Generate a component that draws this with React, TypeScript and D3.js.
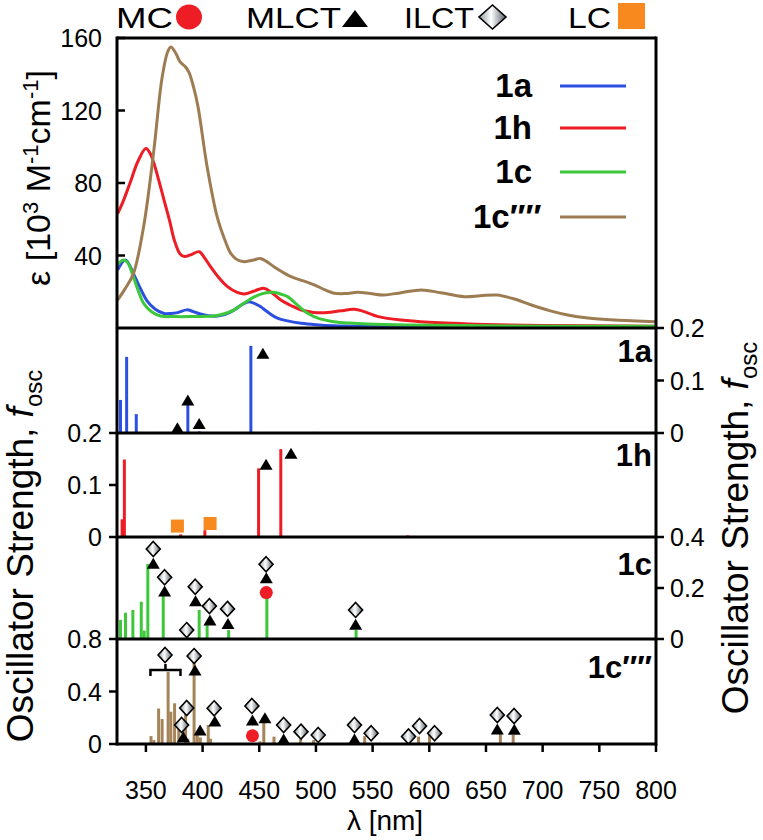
import React from "react";
import * as d3 from "d3";

// ---------- data ----------
const specBlue1a: [number, number][] = [[325,32],[332,37.5],[339,30],[345,22],[351,15],[358,10.5],[366,8],[372,8],[378,8.5],[386,10],[392,9],[398,7.7],[405,6.8],[413,6.6],[420,7.5],[428,10],[435,13],[441,14.5],[447,13.2],[451,11.8],[458,8.5],[466,5.4],[476,3.8],[487,2.6],[500,1.8],[516,1.2],[550,0.9],[600,0.7],[700,0.5],[800,0.4]];
const specRed1h: [number, number][] = [[325,63],[330,70],[336,80],[343,92],[350,99],[354,96],[357,91],[362,80],[366,70.6],[371,59],[375,48.6],[380,41],[384,39.4],[390,40.5],[397,42.1],[402,38.5],[407,33.8],[414,28],[422,22.8],[430,19.8],[437,18.8],[445,20.3],[454,21.9],[461,19.5],[469,15.4],[478,12.4],[487,9.9],[498,8.6],[510,8.5],[522,9.5],[534,10.3],[545,8.5],[555,6.3],[575,4.4],[600,3.2],[650,2],[700,1.4],[800,1]];
const specGreen1c: [number, number][] = [[325,35],[330,37.5],[334,36],[338,30],[343,21],[348,13.6],[355,9],[363,6.6],[375,6.3],[390,6.3],[400,6.4],[410,6.6],[420,8],[428,10],[436,13.5],[446,17.3],[455,19.3],[463,19.7],[470,18.5],[475,17.3],[484,12.5],[493,8],[503,5.2],[516,3.5],[530,2.7],[545,2.2],[580,1.6],[650,1.2],[800,0.9]];
const specBrown1c4: [number, number][] = [[325,15.4],[332,22],[339,30],[348,56],[357,98],[364,137],[369,152],[372,155],[376,152],[380,147],[385,144],[388,141],[392,133],[396,122],[404,89],[413,61],[420,48],[425,41],[431,37.5],[437,36.6],[445,37.5],[451,38.4],[457,36.5],[463,33.8],[470,31],[478,28.3],[489,26],[499,23.7],[508,21],[516,19.2],[526,19],[537,19.7],[548,19],[560,18.2],[575,19.5],[593,21],[610,19.5],[631,17.3],[645,17.8],[660,18.2],[675,16],[690,12.7],[706,9.6],[722,7.2],[740,5.5],[764,4.4],[800,3.5]];

const sticks1a: [number, number][] = [[327.6,0.063],[333,0.145],[341.5,0.036],[377.8,0.004],[387,0.057],[397,0.003],[442.6,0.166],[498,0.002]];
const sticks1h: [number, number][] = [[329,0.034],[331,0.149],[380.7,0.005],[400,0.002],[402,0.013],[449.4,0.132],[469,0.169],[581,0.003]];
const sticks1c: [number, number][] = [[327.6,0.075],[332,0.103],[338.5,0.114],[345.9,0.146],[348.5,0.033],[351.7,0.294],[365.3,0.172],[386.6,0.01],[397,0.114],[404,0.055],[423,0.035],[456.7,0.172],[535.4,0.035]];
const sticks1c4: [number, number][] = [[339,0.008],[341,0.008],[345,0.007],[348,0.008],[354.5,0.06],[357,0.03],[361.2,0.27],[364.3,0.19],[369.6,0.55],[372,0.246],[375.3,0.31],[379,0.16],[385,0.236],[387,0.04],[392.5,0.69],[395.3,0.08],[398,0.05],[405,0.145],[407,0.04],[450.6,0.02],[454,0.196],[463,0.056],[486.5,0.04],[498,0.03],[543,0.06],[590.5,0.056],[600.2,0.07],[662.7,0.08],[674,0.07]];

const tri1a: [number, number][] = [[377.8,0.010],[387,0.063],[397,0.018],[453.2,0.152]];
const tri1h: [number, number][] = [[456,0.140],[478,0.161]];
const sq1h: [number, number][] = [[377.8,0.021],[406.6,0.026]];
const tri1c: [number, number][] = [[356.5,0.297],[366.5,0.188],[393.8,0.150],[406.5,0.075],[422.4,0.061],[456.2,0.240],[535,0.058]];
const dia1c: [number, number][] = [[356.5,0.353],[366.5,0.242],[386,0.035],[393.5,0.205],[406,0.129],[422,0.118],[456,0.293],[535,0.114]];
const circ1c: [number, number][] = [[456.2,0.182]];
const tri1c4: [number, number][] = [[383,0.056],[393.3,0.564],[397.8,0.107],[410.8,0.175],[444,0.183],[455,0.200],[471.5,0.038],[534,0.038],[660,0.114],[675,0.112]];
const dia1c4: [number, number][] = [[366.9,0.678],[381.5,0.145],[386,0.274],[392.5,0.670],[410.2,0.272],[443.5,0.290],[471.5,0.145],[486.8,0.094],[502,0.069],[534,0.145],[548.7,0.082],[581.7,0.057],[591.4,0.137],[604.7,0.082],[660,0.221],[674.8,0.213]];
const circ1c4: [number, number][] = [[444,0.063]];
const bracket1c4: [number, number, number] = [354, 380.5, 0.564];

const xTicks = [350, 400, 450, 500, 550, 600, 650, 700, 750, 800];
const epsTicks = [40, 80, 120, 160];

const seriesNames = ["1a", "1h", "1c", "1c′′′′"];
const seriesColors = ["#2b4fe0", "#ee1c25", "#3cc83a", "#9e7c52"];
const stickBrown = "#a6845a";
const orange = "#f7891e";
const typeLabels = ["MC", "MLCT", "ILCT", "LC"];

// ---------- layout ----------
const FONT = "'Liberation Sans', Arial, Helvetica, sans-serif";
const L = 117, R = 656;
const TOP = 38, TOPB = 328;

const x = d3.scaleLinear().domain([324.5, 800]).range([L, R]);
const yEps = d3.scaleLinear().domain([0, 160]).range([TOPB, TOP]);

type Panel = {
  label: string; y0: number; y1: number; max: number; ticks: number[]; side: "left" | "right";
  color: string; sticks: [number, number][]; tri: [number, number][]; dia: [number, number][];
  circ: [number, number][]; sq: [number, number][]; labelDy: number;
};

const panels: Panel[] = [
  { label: "1a", y0: 328, y1: 433, max: 0.2, ticks: [0, 0.1, 0.2], side: "right", color: seriesColors[0], sticks: sticks1a, tri: tri1a, dia: [], circ: [], sq: [], labelDy: 34 },
  { label: "1h", y0: 433, y1: 537, max: 0.2, ticks: [0, 0.1, 0.2], side: "left", color: seriesColors[1], sticks: sticks1h, tri: tri1h, dia: [], circ: [], sq: sq1h, labelDy: 33 },
  { label: "1c", y0: 537, y1: 639, max: 0.4, ticks: [0, 0.2, 0.4], side: "right", color: seriesColors[2], sticks: sticks1c, tri: tri1c, dia: dia1c, circ: circ1c, sq: [], labelDy: 38 },
  { label: "1c′′′′", y0: 639, y1: 744, max: 0.8, ticks: [0, 0.4, 0.8], side: "left", color: stickBrown, sticks: sticks1c4, tri: tri1c4, dia: dia1c4, circ: circ1c4, sq: [], labelDy: 39 },
];

const Tri = ({ cx, cy, w = 13, h = 11 }: { cx: number; cy: number; w?: number; h?: number }) => (
  <path d={`M${cx - w / 2},${cy + h / 2}L${cx + w / 2},${cy + h / 2}L${cx},${cy - h / 2}Z`} fill="#000" />
);
const Dia = ({ cx, cy, w = 14, h = 15 }: { cx: number; cy: number; w?: number; h?: number }) => (
  <path d={`M${cx},${cy - h / 2}L${cx + w / 2},${cy}L${cx},${cy + h / 2}L${cx - w / 2},${cy}Z`} fill="url(#diaGrad)" stroke="#000" strokeWidth={1.6} />
);

export default function App() {
  const line = d3.line<[number, number]>().x(d => x(d[0])).y(d => yEps(d[1])).curve(d3.curveCatmullRom.alpha(0.5));
  const spectra = [specBlue1a, specRed1h, specGreen1c, specBrown1c4];
  const legendY = [86, 128, 172, 217];
  const typeX = [116, 246, 404, 568];
  const typeW = [57, 95, 70, 43];

  return (
    <svg width={763} height={840} style={{ display: "block", position: "absolute", left: 0, top: 0 }} fontFamily={FONT}>
      <defs>
        <linearGradient id="diaGrad" x1="0" y1="0" x2="1" y2="0">
          <stop offset="0" stopColor="#8f999e" />
          <stop offset="0.45" stopColor="#ffffff" />
          <stop offset="1" stopColor="#56606a" />
        </linearGradient>
      </defs>
      <rect width={763} height={840} fill="#fff" />

      {/* top legend */}
      <g fontSize={29}>
        {typeLabels.map((t, i) => (
          <text key={t} x={typeX[i]} y={28} textLength={typeW[i]} lengthAdjust="spacingAndGlyphs">{t}</text>
        ))}
        <ellipse cx={189} cy={17} rx={13} ry={12.5} fill="#ee1c25" />
        <Tri cx={355} cy={18.5} w={26} h={17} />
        <Dia cx={492.5} cy={17} w={27} h={24} />
        <rect x={618} y={3} width={27} height={26} fill={orange} />
      </g>

      {/* top panel spectra */}
      {spectra.map((s, i) => (
        <path key={i} d={line(s) || ""} fill="none" stroke={seriesColors[i]} strokeWidth={3} />
      ))}
      {/* legend in top panel */}
      {seriesNames.map((n, i) => (
        <g key={n}>
          {i < 3 ? (
            <text x={532} y={legendY[i] + 11} fontSize={33} fontWeight="bold" textAnchor="end">{n}</text>
          ) : (
            <text x={473} y={legendY[i] + 11} fontSize={33} fontWeight="bold">{n}</text>
          )}
          <line x1={560} x2={626} y1={legendY[i]} y2={legendY[i]} stroke={seriesColors[i]} strokeWidth={3} />
        </g>
      ))}
      {/* top panel y ticks */}
      {epsTicks.map(t => (
        <g key={t}>
          <line x1={L} x2={L + 8} y1={yEps(t)} y2={yEps(t)} stroke="#000" strokeWidth={2.5} />
          <text x={102} y={yEps(t) + 9} fontSize={25} textAnchor="end">{t}</text>
        </g>
      ))}

      {/* lower panels */}
      {panels.map(p => {
        const y = d3.scaleLinear().domain([0, p.max]).range([p.y1, p.y0]);
        return (
          <g key={p.label}>
            {p.sticks.map((s, i) => (
              <line key={i} x1={x(s[0])} x2={x(s[0])} y1={y(0)} y2={y(s[1])} stroke={p.color} strokeWidth={3} />
            ))}
            {p.sq.map((s, i) => (
              <rect key={"s" + i} x={x(s[0]) - 6.5} y={y(s[1]) - 6.5} width={13} height={13} fill={orange} />
            ))}
            {p.circ.map((s, i) => (
              <circle key={"c" + i} cx={x(s[0])} cy={y(s[1])} r={6.5} fill="#ee1c25" />
            ))}
            {p.tri.map((s, i) => (
              <Tri key={"t" + i} cx={x(s[0])} cy={y(s[1])} />
            ))}
            {p.dia.map((s, i) => (
              <Dia key={"d" + i} cx={x(s[0])} cy={y(s[1])} />
            ))}
            {p.ticks.map(t => (
              <g key={t}>
                {p.side === "left" ? (
                  <>
                    <line x1={L - 8} x2={L} y1={y(t)} y2={y(t)} stroke="#000" strokeWidth={2.5} />
                    <text x={102} y={y(t) + 9} fontSize={25} textAnchor="end">{String(t)}</text>
                  </>
                ) : (
                  <>
                    <line x1={R} x2={R + 8} y1={y(t)} y2={y(t)} stroke="#000" strokeWidth={2.5} />
                    <text x={670} y={y(t) + 9} fontSize={25}>{String(t)}</text>
                  </>
                )}
              </g>
            ))}
            <text x={652} y={p.y0 + p.labelDy} fontSize={31} fontWeight="bold" textAnchor="end">{p.label}</text>
          </g>
        );
      })}

      {/* bracket in 1c'''' panel */}
      {(() => {
        const p = panels[3];
        const y = d3.scaleLinear().domain([0, p.max]).range([p.y1, p.y0]);
        const [a, b, f] = bracket1c4;
        const yy = y(f);
        const xm = (x(a) + x(b)) / 2;
        return (
          <path d={`M${x(a)},${yy + 6}V${yy}H${x(b)}V${yy + 6}M${xm},${yy}V${yy - 6}`} fill="none" stroke="#000" strokeWidth={2.5} />
        );
      })()}

      {/* frames */}
      <g stroke="#000" strokeWidth={3} fill="none">
        <line x1={L} x2={R} y1={TOP} y2={TOP} />
        <line x1={L} x2={L} y1={TOP - 1.5} y2={744 + 1.5} />
        <line x1={R} x2={R} y1={TOP - 1.5} y2={744 + 1.5} />
        {[328, 433, 537, 639, 744].map(v => (
          <line key={v} x1={L} x2={R} y1={v} y2={v} />
        ))}
      </g>

      {/* x axis */}
      {xTicks.map(t => (
        <g key={t}>
          <line x1={x(t)} x2={x(t)} y1={744} y2={752} stroke="#000" strokeWidth={2.5} />
          <text x={x(t)} y={799} fontSize={25} textAnchor="middle">{t}</text>
        </g>
      ))}
      <text x={385} y={830} fontSize={28} textAnchor="middle">λ [nm]</text>

      {/* axis titles */}
      <text transform="translate(50,178) rotate(-90)" fontSize={34} textAnchor="middle">
        ε [10<tspan dy={-12} fontSize={22}>3</tspan><tspan dy={12}> M</tspan><tspan dy={-12} fontSize={22}>-1</tspan><tspan dy={12}>cm</tspan><tspan dy={-12} fontSize={22}>-1</tspan><tspan dy={12}>]</tspan>
      </text>
      <text transform="translate(33,556) rotate(-90)" fontSize={37} textAnchor="middle">
        Oscillator Strength, <tspan fontStyle="italic">f</tspan><tspan dy={9} fontSize={24}>osc</tspan>
      </text>
      <text transform="translate(748,528) rotate(-90)" fontSize={37} textAnchor="middle">
        Oscillator Strength, <tspan fontStyle="italic">f</tspan><tspan dy={9} fontSize={24}>osc</tspan>
      </text>
    </svg>
  );
}
